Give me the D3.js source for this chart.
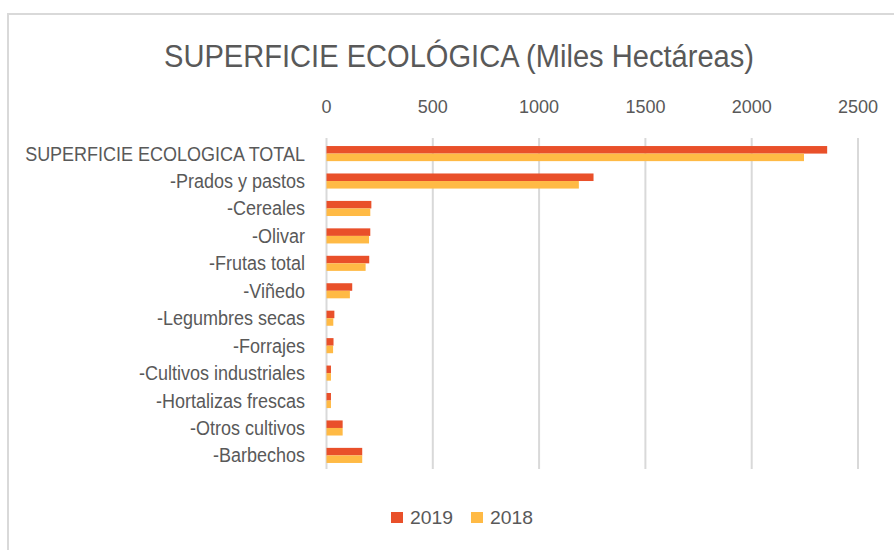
<!DOCTYPE html>
<html>
<head>
<meta charset="utf-8">
<script src="https://cdn.jsdelivr.net/npm/d3@7"></script>
<style>
  body { margin: 0; background: #fff; }
  svg { font-family: "Liberation Sans", Arial, sans-serif; }
</style>
</head>
<body>
<svg width="894" height="550"></svg>
<script>
var categories = ["SUPERFICIE ECOLOGICA TOTAL", "-Prados y pastos", "-Cereales", "-Olivar",
  "-Frutas total", "-Viñedo", "-Legumbres secas", "-Forrajes", "-Cultivos industriales",
  "-Hortalizas frescas", "-Otros cultivos", "-Barbechos"]
var values2019 = [2355, 1256, 211, 206, 201, 121, 37, 33, 21, 21, 76, 168]
var values2018 = [2246, 1187, 206, 200, 184, 110, 32, 31, 21, 21, 76, 168]
var series = ["2019", "2018"]
var ticks = [0, 500, 1000, 1500, 2000, 2500]
var colors = ["#E9502A", "#FFBA45"]

var svg = d3.select("svg")
var textColor = "#595959"

// chart frame
svg.append("rect")
  .attr("x", 8).attr("y", 14)
  .attr("width", 900).attr("height", 560)
  .attr("fill", "none")
  .attr("stroke", "#d9d9d9")
  .attr("stroke-width", 2)

var x = d3.scaleLinear().domain([0, 2500]).range([326.5, 858])
var y = d3.scaleBand().domain(categories).range([140, 469]).paddingInner(0.45).paddingOuter(0.22)
var ySub = d3.scaleBand().domain(series).range([0, y.bandwidth()])

// title
svg.append("text")
  .attr("x", 459).attr("y", 67)
  .attr("text-anchor", "middle")
  .attr("fill", textColor)
  .style("font-size", "31px")
  .attr("textLength", 590)
  .attr("lengthAdjust", "spacingAndGlyphs")
  .text("SUPERFICIE ECOLÓGICA (Miles Hectáreas)")

// gridlines
svg.append("g")
  .selectAll("line")
  .data(ticks)
  .join("line")
  .attr("x1", d => x(d)).attr("x2", d => x(d))
  .attr("y1", 138).attr("y2", 469)
  .attr("stroke", "#d9d9d9")
  .attr("stroke-width", 2)

// top axis labels
svg.append("g")
  .attr("text-anchor", "middle")
  .attr("fill", textColor)
  .style("font-size", "18px")
  .selectAll("text")
  .data(ticks)
  .join("text")
  .attr("x", d => x(d))
  .attr("y", 113)
  .text(d => d)

// bars
var rows = categories.map((c, i) => ({cat: c, vals: [values2019[i], values2018[i]]}))
svg.append("g")
  .selectAll("g")
  .data(rows)
  .join("g")
  .attr("transform", d => `translate(0,${y(d.cat)})`)
  .selectAll("rect")
  .data(d => d.vals.map((v, j) => ({key: series[j], v: v, c: colors[j]})))
  .join("rect")
  .attr("x", x(0))
  .attr("y", d => ySub(d.key))
  .attr("width", d => x(d.v) - x(0))
  .attr("height", ySub.bandwidth())
  .attr("fill", d => d.c)

// category labels, squeezed to match the narrow original face
var labG = svg.append("g")
var labels = labG.selectAll("text")
  .data(categories)
  .join("text")
  .attr("x", 0)
  .attr("y", d => y(d) + y.bandwidth() / 2)
  .attr("dy", "0.35em")
  .attr("text-anchor", "end")
  .attr("fill", textColor)
  .style("font-size", "20px")
  .text(d => d)
var w = labels.nodes()[0].getComputedTextLength()
labG.attr("transform", `translate(305,0) scale(${280 / w},1)`)

// legend
var leg = svg.append("g")
  .selectAll("g")
  .data(series)
  .join("g")
  .attr("transform", (d, i) => `translate(${391 + i * 80},512)`)
leg.append("rect")
  .attr("width", 12).attr("height", 11)
  .attr("fill", (d, i) => colors[i])
leg.append("text")
  .attr("x", 19).attr("y", 12)
  .attr("fill", textColor)
  .style("font-size", "19px")
  .attr("textLength", 43)
  .attr("lengthAdjust", "spacingAndGlyphs")
  .text(d => d)
</script>
</body>
</html>
